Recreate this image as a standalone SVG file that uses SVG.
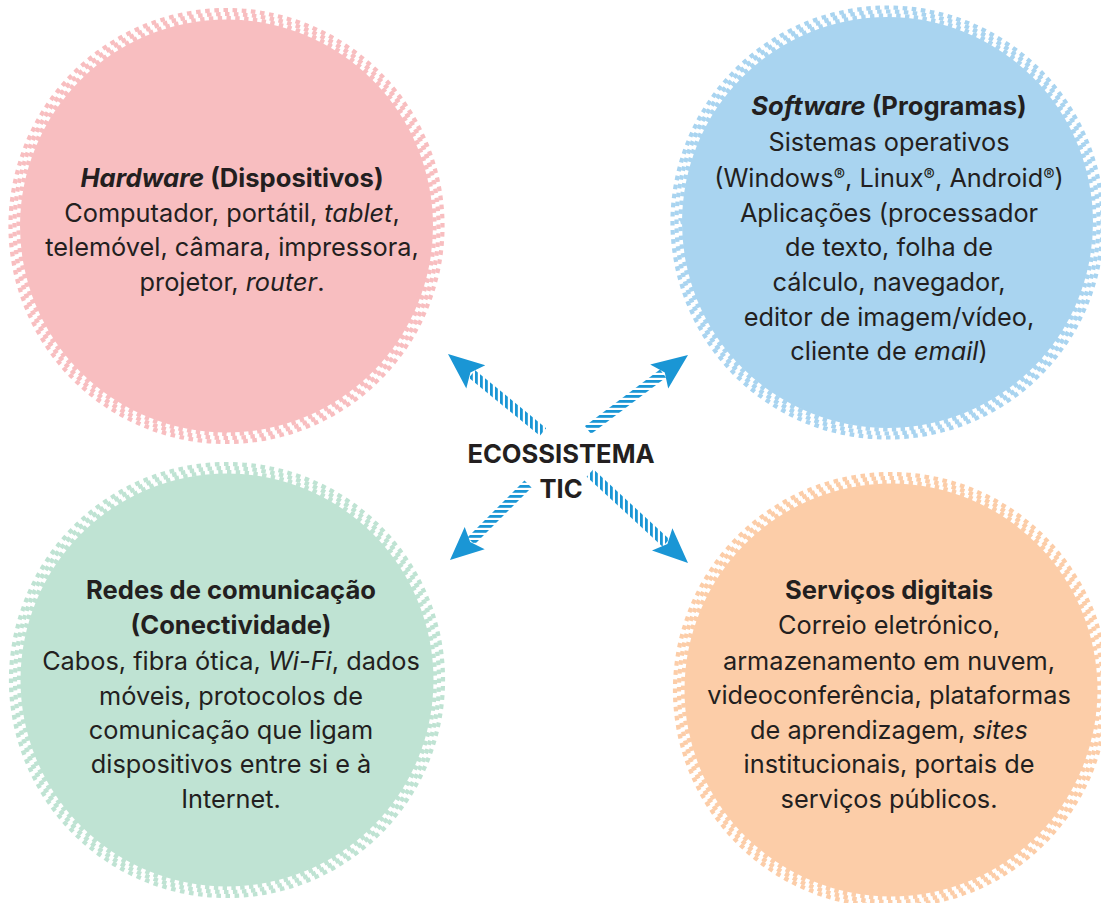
<svg xmlns="http://www.w3.org/2000/svg" width="1101" height="903" viewBox="0 0 1101 903">
<defs>
<style>
.t{font-family:Inter,"Liberation Sans",sans-serif;font-size:25.3px;fill:#231f20;text-anchor:middle}
.b{font-weight:bold}
.h{font-size:25.6px}
.i{font-style:italic}
.sup{font-size:17px}
.c{font-family:Inter,"Liberation Sans",sans-serif;font-size:25.6px;font-weight:bold;fill:#231f20;text-anchor:middle}
.r{fill:none;stroke-width:4.2;stroke-dasharray:4.5 4.5}
.r1{stroke-dashoffset:0}
.r2{stroke-dashoffset:1.5}
.r3{stroke-dashoffset:3}
.pk{fill:#f8bec0}.pks{stroke:#f8bec0}
.bl{fill:#a9d4f0}.bls{stroke:#a9d4f0}
.gr{fill:#bfe3d3}.grs{stroke:#bfe3d3}
.or{fill:#fccda8}.ors{stroke:#fccda8}
.head{fill:#1a96d5}
</style>
<pattern id="vs" width="5" height="5" patternUnits="userSpaceOnUse"><rect width="2.8" height="5" fill="#1a96d5"/></pattern>
<pattern id="hs" width="5" height="5" patternUnits="userSpaceOnUse"><rect width="5" height="2.8" fill="#1a96d5"/></pattern>
</defs>
<rect width="1101" height="903" fill="#ffffff"/>

<g id="hardware">
<circle class="pk" cx="226.5" cy="226" r="206.5"/>
<circle class="r r1 pks" cx="226.5" cy="226" r="208" pathLength="1332"/>
<circle class="r r2 pks" cx="226.5" cy="226" r="212" pathLength="1332"/>
<circle class="r r3 pks" cx="226.5" cy="226" r="216" pathLength="1332"/>
<text class="t b h" x="232" y="187"><tspan class="i">Hardware</tspan> (Dispositivos)</text>
<text class="t" x="232" y="222">Computador, portátil, <tspan class="i">tablet</tspan>,</text>
<text class="t" x="232" y="256">telemóvel, câmara, impressora,</text>
<text class="t" x="232" y="291">projetor, <tspan class="i">router</tspan>.</text>
</g>

<g id="software">
<circle class="bl" cx="887.5" cy="222.5" r="205.5"/>
<circle class="r r1 bls" cx="887.5" cy="222.5" r="207" pathLength="1332"/>
<circle class="r r2 bls" cx="887.5" cy="222.5" r="211" pathLength="1332"/>
<circle class="r r3 bls" cx="887.5" cy="222.5" r="215" pathLength="1332"/>
<text class="t b h" x="889" y="115"><tspan class="i">Software</tspan> (Programas)</text>
<text class="t" x="889" y="151">Sistemas operativos</text>
<text class="t" x="889" y="187">(Windows<tspan class="sup" dy="-6">®</tspan><tspan dy="6">, Linux</tspan><tspan class="sup" dy="-6">®</tspan><tspan dy="6">, Android</tspan><tspan class="sup" dy="-6">®</tspan><tspan dy="6">)</tspan></text>
<text class="t" x="889" y="222">Aplicações (processador</text>
<text class="t" x="889" y="256">de texto, folha de</text>
<text class="t" x="889" y="291">cálculo, navegador,</text>
<text class="t" x="889" y="326">editor de imagem/vídeo,</text>
<text class="t" x="889" y="360">cliente de <tspan class="i">email</tspan>)</text>
</g>

<g id="redes">
<circle class="gr" cx="227" cy="680" r="206.5"/>
<circle class="r r1 grs" cx="227" cy="680" r="208" pathLength="1332"/>
<circle class="r r2 grs" cx="227" cy="680" r="212" pathLength="1332"/>
<circle class="r r3 grs" cx="227" cy="680" r="216" pathLength="1332"/>
<text class="t b h" x="231" y="599">Redes de comunicação</text>
<text class="t b h" x="231" y="634">(Conectividade)</text>
<text class="t" x="231" y="670">Cabos, fibra ótica, <tspan class="i">Wi-Fi</tspan>, dados</text>
<text class="t" x="231" y="705">móveis, protocolos de</text>
<text class="t" x="231" y="739">comunicação que ligam</text>
<text class="t" x="231" y="773">dispositivos entre si e à</text>
<text class="t" x="231" y="808">Internet.</text>
</g>

<g id="servicos">
<circle class="or" cx="891" cy="690" r="206.5"/>
<circle class="r r1 ors" cx="891" cy="690" r="208" pathLength="1332"/>
<circle class="r r2 ors" cx="891" cy="690" r="212" pathLength="1332"/>
<circle class="r r3 ors" cx="891" cy="690" r="216" pathLength="1332"/>
<text class="t b h" x="889" y="599">Serviços digitais</text>
<text class="t" x="889" y="634">Correio eletrónico,</text>
<text class="t" x="889" y="670">armazenamento em nuvem,</text>
<text class="t" x="889" y="704">videoconferência, plataformas</text>
<text class="t" x="889" y="739">de aprendizagem, <tspan class="i">sites</tspan></text>
<text class="t" x="889" y="773">institucionais, portais de</text>
<text class="t" x="889" y="808">serviços públicos.</text>
</g>

<g id="connectors">
<line x1="543" y1="432" x2="472" y2="374" stroke="url(#vs)" stroke-width="10"/>
<polygon class="head" points="448,354 485.3,365.3 470.4,372.4 466.3,388.5"/>
<line x1="588" y1="430" x2="663" y2="373.5" stroke="url(#hs)" stroke-width="10"/>
<polygon class="head" points="688,355 668.2,388.6 664.8,372.4 650.2,364.6"/>
<line x1="528" y1="484" x2="471" y2="541" stroke="url(#hs)" stroke-width="10"/>
<polygon class="head" points="450,560 464.7,526.9 470.2,542 484.7,549.3"/>
<line x1="590" y1="473" x2="666" y2="543" stroke="url(#vs)" stroke-width="10"/>
<polygon class="head" points="688,563 652,550.4 667.4,544 672.4,528.2"/>
</g>

<g id="centro">
<text class="c" x="561" y="463">ECOSSISTEMA</text>
<text class="c" x="561" y="498">TIC</text>
</g>
</svg>
